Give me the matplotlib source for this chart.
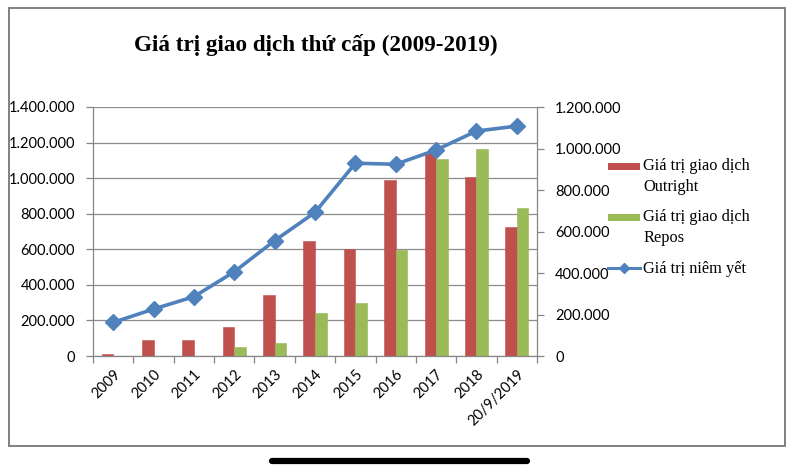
import numpy as np
import matplotlib
matplotlib.use('Agg')
import matplotlib.pyplot as plt
from matplotlib.patches import Rectangle
from matplotlib.lines import Line2D
from matplotlib.legend_handler import HandlerPatch
from matplotlib.ticker import FuncFormatter, FixedLocator

# dữ liệu
nam = ['2009', '2010', '2011', '2012', '2013', '2014', '2015', '2016', '2017', '2018', '20/9/2019']
outright = [13000, 90000, 90000, 161000, 343000, 648000, 603000, 989000, 1139000, 1004000, 727000]
repos = [0, 0, 0, 49000, 75000, 243000, 296000, 596000, 1106000, 1164000, 830000]
niem_yet = [162000, 226000, 286000, 406000, 556000, 692000, 929000, 924000, 993000, 1084000, 1108000]

title = 'Giá trị giao dịch thứ cấp (2009-2019)'
lbl_out = 'Giá trị giao dịch\nOutright'
lbl_rep = 'Giá trị giao dịch\nRepos'
lbl_line = 'Giá trị niêm yết'

c_out = '#C0504D'
c_rep = '#9BBB59'
c_line = '#4F81BD'
c_axis = '#868686'

tick_font = 'Lato'
serif = 'Liberation Serif'


def dot_fmt(v, pos):
    return f'{int(round(v)):,}'.replace(',', '.')


# ô màu trong chú giải nằm ngang dòng chữ đầu (kiểu Excel)
class HandlerTopPatch(HandlerPatch):
    def __init__(self, shift, **kw):
        super().__init__(**kw)
        self.shift = shift

    def create_artists(self, legend, orig_handle, xdescent, ydescent,
                       width, height, fontsize, trans):
        p = Rectangle((-xdescent, -ydescent + self.shift), width, height,
                      facecolor=orig_handle.get_facecolor(), edgecolor='none',
                      transform=trans)
        return [p]


fig = plt.figure(figsize=(8, 4.74), dpi=100)
ax = fig.add_axes([93 / 800, 1 - 356 / 474, (537 - 93) / 800, (356 - 107) / 474])

x = np.arange(len(nam))
w = 0.285
b1 = ax.bar(x - w / 2, outright, w, color=c_out, edgecolor='#B9504D', linewidth=0.4, label=lbl_out, zorder=2)
b2 = ax.bar(x + w / 2, repos, w, color=c_rep, edgecolor='#97B555', linewidth=0.4, label=lbl_rep, zorder=2)

ax.set_xlim(-0.5, len(nam) - 0.5)
ax.set_ylim(0, 1400000)
ax.set_yticks(np.arange(0, 1400001, 200000))
ax.yaxis.set_major_formatter(FuncFormatter(dot_fmt))
ax.grid(axis='y', color='#8c8c8c', linewidth=0.9, zorder=0)
ax.set_axisbelow(True)

ax.set_xticks(x)
ax.set_xticklabels(nam, rotation=45, ha='right', rotation_mode='anchor', fontfamily=tick_font, fontsize=10.5)
ax.xaxis.set_minor_locator(FixedLocator(np.arange(-0.5, len(nam), 1.0)))
ax.tick_params(axis='x', which='major', length=0, pad=8)
ax.tick_params(axis='x', which='minor', length=5, color=c_axis, width=0.9)
ax.tick_params(axis='y', length=5, color=c_axis, width=0.9, pad=8)
for t in ax.get_yticklabels():
    t.set_fontfamily(tick_font)
    t.set_fontsize(10.5)

for s in ['top', 'right']:
    ax.spines[s].set_visible(False)
for s in ['left', 'bottom']:
    ax.spines[s].set_color(c_axis)
    ax.spines[s].set_linewidth(0.9)

ax2 = ax.twinx()
ln, = ax2.plot(x, niem_yet, color=c_line, linewidth=2.6, marker='D', markersize=8,
               markerfacecolor=c_line, markeredgecolor=c_line, label=lbl_line, zorder=3)
ax2.set_ylim(0, 1200000)
ax2.set_yticks(np.arange(0, 1200001, 200000))
ax2.yaxis.set_major_formatter(FuncFormatter(dot_fmt))
ax2.tick_params(axis='y', length=5, color=c_axis, width=0.9, pad=8)
for t in ax2.get_yticklabels():
    t.set_fontfamily(tick_font)
    t.set_fontsize(10.5)
for s in ['top', 'left', 'bottom']:
    ax2.spines[s].set_visible(False)
ax2.spines['right'].set_color(c_axis)
ax2.spines['right'].set_linewidth(0.9)

leg_line = Line2D([], [], color=c_line, linewidth=2.2, marker='D', markersize=5)
leg = fig.legend([b1[0], b2[0], leg_line], [lbl_out, lbl_rep, lbl_line],
                 loc='upper left', bbox_to_anchor=(608 / 800, 1 - 158 / 474),
                 frameon=False, prop={'family': serif, 'size': 11.8},
                 handlelength=1.95, handleheight=0.3, handletextpad=0.2,
                 labelspacing=0.83, borderpad=0, borderaxespad=0,
                 handler_map={Rectangle: HandlerTopPatch(7.5)})
for t in leg.get_texts():
    t.set_linespacing(1.45)

fig.text(315.5 / 800, 1 - 45 / 474, title, ha='center', va='center',
         fontfamily=serif, fontweight='bold', fontsize=16.7)

# khung ngoài và thanh dưới của ảnh chụp màn hình
fig.patches.append(Rectangle((9 / 800, 1 - 446 / 474), 776 / 800, 438 / 474,
                             transform=fig.transFigure, fill=False,
                             edgecolor='#808080', linewidth=1.4))
fig.lines.append(Line2D([272 / 800, 527 / 800], [1 - 461 / 474, 1 - 461 / 474],
                        transform=fig.transFigure, color='black', linewidth=4.5,
                        solid_capstyle='round'))

fig.savefig('out.png', dpi=100)
